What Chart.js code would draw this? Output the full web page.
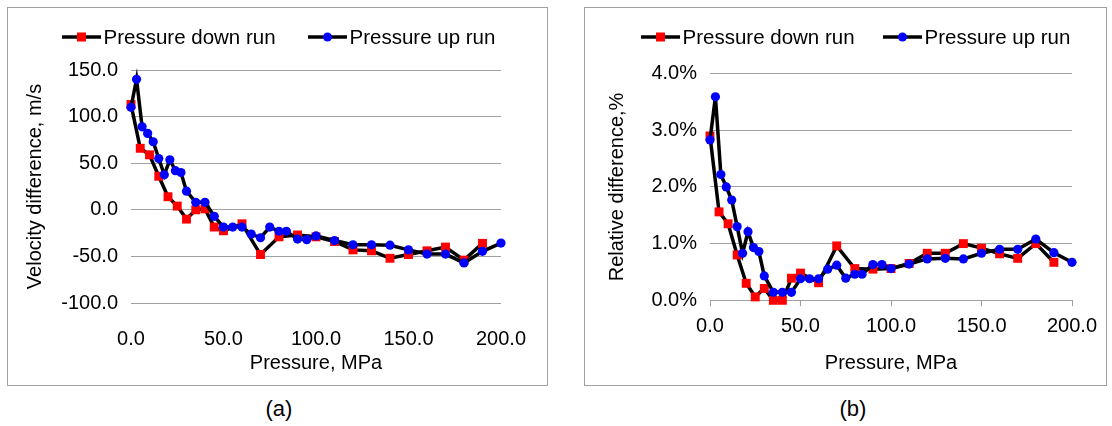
<!DOCTYPE html>
<html>
<head>
<meta charset="utf-8">
<script src="https://cdn.jsdelivr.net/npm/chart.js@4.4.1/dist/chart.umd.min.js"></script>
<style>
	body { margin:0; background:#fff; width:1112px; height:426px; position:relative; overflow:hidden; font-family:"Liberation Sans", Arial, sans-serif; }
	.box { position:absolute; top:7px; height:377px; border:1px solid #a0a0a0; background:#fff; }
	.box canvas { display:block; }
	.cap { position:absolute; top:396px; font-size:22px; color:#000; width:60px; margin-left:-30px; text-align:center; }
</style>
</head>
<body>
<div class="box" style="left:7px; width:539px;"><canvas id="velChart" width="539" height="377"></canvas></div>
<div class="box" style="left:584px; width:521px;"><canvas id="relChart" width="521" height="377"></canvas></div>
<div class="cap" style="left:279px;">(a)</div>
<div class="cap" style="left:853px;">(b)</div>
<script>
// pressure steps, MPa
var pressDown = [0, 5, 10, 15, 20, 25, 30, 35, 40, 45, 50, 60, 70, 80, 90, 100, 110, 120, 130, 140, 150, 160, 170, 180, 190]
var pressUp = [0, 3, 6, 9, 12, 15, 18, 21, 24, 27, 30, 35, 40, 45, 50, 55, 60, 65, 70, 75, 80, 84, 90, 95, 100, 110, 120, 130, 140, 150, 160, 170, 180, 190, 200]

// (a) velocity difference, m/s
var velDown = [113, 66, 59, 36, 14, 4, -10, 0, 1, -18.5, -22.5, -15, -48, -29, -27, -29, -34, -43, -44, -52, -48, -44, -40, -54, -36]
var velUp = [110, 140, 89, 82, 73, 55, 37.5, 53.6, 42, 40, 20, 8, 8, -7, -18.5, -18.5, -18.5, -26, -30, -18.5, -23, -23, -31.4, -32, -28, -33, -37.5, -37.5, -38, -43, -47.5, -47.5, -57, -44.6, -35.7]

// (b) relative difference, %
var relDown = [2.90, 1.56, 1.35, 0.80, 0.30, 0.06, 0.21, 0.0, 0.0, 0.39, 0.48, 0.31, 0.96, 0.56, 0.55, 0.56, 0.65, 0.83, 0.83, 1.00, 0.92, 0.82, 0.74, 1.00, 0.67]
var relUp = [2.83, 3.59, 2.22, 2.00, 1.77, 1.30, 0.83, 1.21, 0.93, 0.86, 0.43, 0.14, 0.14, 0.14, 0.38, 0.38, 0.38, 0.55, 0.62, 0.39, 0.46, 0.46, 0.63, 0.63, 0.56, 0.64, 0.73, 0.74, 0.73, 0.83, 0.90, 0.90, 1.08, 0.84, 0.67]

var xTicks = [0, 50, 100, 150, 200]
var seriesNames = ['Pressure down run', 'Pressure up run']

var FONT = '"Liberation Sans", Arial, sans-serif'
var GRID = '#a0a0a0'

function toPoints( xs, ys ) {
	var pts = []
	for( var i = 0; i < xs.length; i++ ) {
		pts.push({ x:xs[i], y:ys[i] })
	}
	return pts
}

// legend: black line with the marker in the middle, then text
function legendPlugin( items ) {
	return {
		id: 'lineLegend',
		afterDraw: function( chart ) {
			var ctx = chart.ctx
			ctx.save()
			ctx.font = '20.5px ' + FONT
			ctx.textBaseline = 'middle'
			items.forEach(function( it ) {
				ctx.strokeStyle = '#000'
				ctx.lineWidth = 3.5
				ctx.beginPath()
				ctx.moveTo(it.x, it.y)
				ctx.lineTo(it.x + 39, it.y)
				ctx.stroke()
				ctx.fillStyle = it.color
				if( it.square ) {
					ctx.fillRect(it.x + 19.5 - 4.5, it.y - 4.5, 9, 9)
				} else {
					ctx.beginPath()
					ctx.arc(it.x + 19.5, it.y, 4.5, 0, Math.PI * 2)
					ctx.fill()
				}
				ctx.fillStyle = '#000'
				ctx.fillText(it.text, it.x + 41.5, it.y + 1)
			})
			ctx.restore()
		}
	}
}

function makeChart( id, cfg ) {
	var data = {
		datasets: [
			{
				label: seriesNames[0],
				data: toPoints(pressDown, cfg.down),
				borderColor: '#000',
				borderWidth: 3.5,
				pointStyle: 'rect',
				pointRadius: 6.3,
				pointBackgroundColor: '#ff0000',
				pointBorderColor: '#ff0000',
				pointBorderWidth: 0,
				clip: false,
				order: 2
			}, {
				label: seriesNames[1],
				data: toPoints(pressUp, cfg.up),
				borderColor: '#000',
				borderWidth: 3.5,
				pointStyle: 'circle',
				pointRadius: 4.6,
				pointBackgroundColor: '#0000ff',
				pointBorderColor: '#0000ff',
				pointBorderWidth: 0,
				clip: false,
				order: 1
			}
		]
	}
	var options = {
		responsive: false,
		animation: false,
		layout: { padding: { left: cfg.padL, top: cfg.top, right: cfg.padR, bottom: 10 } },
		plugins: { legend: { display: false }, tooltip: { enabled: false } },
		elements: { line: { tension: 0 } },
		scales: {
			x: {
				type: 'linear',
				min: 0,
				max: 200,
				afterBuildTicks: function( s ) { s.ticks = xTicks.map(function( v ) { return { value: v } }) },
				afterFit: function( s ) { s.height = cfg.xH },
				ticks: {
					color: '#000',
					font: { family: FONT, size: 20 },
					padding: cfg.xPad,
					maxRotation: 0,
					callback: function( v ) { return v.toFixed(1) }
				},
				grid: cfg.xGrid,
				border: cfg.xBorder,
				title: { display: true, text: 'Pressure, MPa', color: '#000', font: { family: FONT, size: 20 }, padding: 0 }
			},
			y: {
				min: cfg.yMin,
				max: cfg.yMax,
				afterBuildTicks: function( s ) { s.ticks = cfg.yTicks.map(function( v ) { return { value: v } }) },
				afterFit: function( s ) { s.width = cfg.yW },
				ticks: {
					color: '#000',
					font: { family: FONT, size: 20 },
					padding: 13,
					callback: cfg.yFmt
				},
				grid: { color: GRID, lineWidth: 1, drawTicks: false },
				border: { display: false },
				title: { display: true, text: cfg.yTitle, color: '#000', font: { family: FONT, size: 20 }, padding: 0 }
			}
		}
	}
	return new Chart(document.getElementById(id), { type: 'line', data: data, options: options, plugins: [legendPlugin(cfg.legend)] })
}

makeChart('velChart', {
	down: velDown,
	up: velUp,
	yMin: -100,
	yMax: 150,
	yTicks: [-100, -50, 0, 50, 100, 150],
	yFmt: function( v ) { return v.toFixed(1) },
	yTitle: 'Velocity difference, m/s',
	padL: 15, padR: 46, top: 62, yW: 108, xH: 72, xPad: 16,
	xGrid: { display: false },
	xBorder: { display: false },
	legend: [
		{ x: 54, y: 29, color: '#ff0000', square: true, text: seriesNames[0] },
		{ x: 300, y: 29, color: '#0000ff', square: false, text: seriesNames[1] }
	]
})

makeChart('relChart', {
	down: relDown,
	up: relUp,
	yMin: 0,
	yMax: 4,
	yTicks: [0, 1, 2, 3, 4],
	yFmt: function( v ) { return v.toFixed(1) + '%' },
	yTitle: 'Relative difference,%',
	padL: 20, padR: 34, top: 65.6, yW: 105, xH: 74.7, xPad: 8,
	xGrid: { drawOnChartArea: false, drawTicks: true, tickLength: 6, color: GRID },
	xBorder: { display: true, color: GRID, width: 1 },
	legend: [
		{ x: 56, y: 29, color: '#ff0000', square: true, text: seriesNames[0] },
		{ x: 298, y: 29, color: '#0000ff', square: false, text: seriesNames[1] }
	]
})
</script>
</body>
</html>
